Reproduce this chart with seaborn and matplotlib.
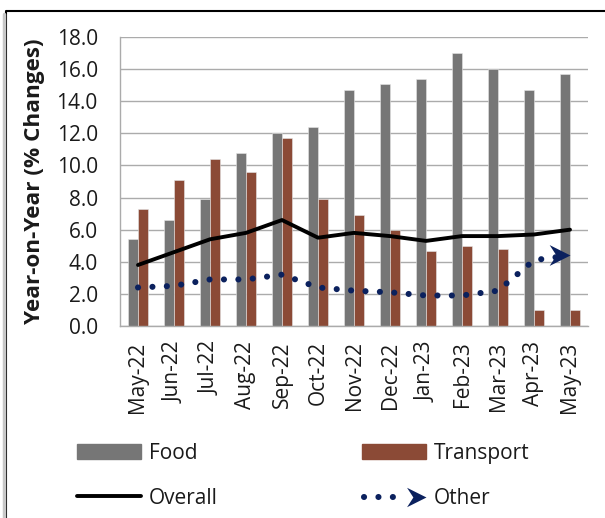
import numpy as np
import pandas as pd
import matplotlib
matplotlib.use("Agg")
import matplotlib.pyplot as plt
from matplotlib.lines import Line2D
from matplotlib.patches import Patch
from matplotlib.path import Path
from matplotlib.legend_handler import HandlerLine2D
import seaborn as sns

months = ["May-22", "Jun-22", "Jul-22", "Aug-22", "Sep-22", "Oct-22", "Nov-22",
          "Dec-22", "Jan-23", "Feb-23", "Mar-23", "Apr-23", "May-23"]
food = [5.4, 6.6, 7.9, 10.8, 12.0, 12.4, 14.7, 15.1, 15.4, 17.0, 16.0, 14.7, 15.7]
transport = [7.3, 9.1, 10.4, 9.6, 11.7, 7.9, 6.9, 6.0, 4.7, 5.0, 4.8, 1.0, 1.0]
overall = [3.8, 4.6, 5.4, 5.8, 6.6, 5.5, 5.8, 5.6, 5.3, 5.6, 5.6, 5.7, 6.0]
other = [2.4, 2.5, 2.9, 2.9, 3.2, 2.4, 2.2, 2.1, 1.9, 1.9, 2.2, 4.1, 4.4]
yticks = [0, 2, 4, 6, 8, 10, 12, 14, 16, 18]

FOOD_C = "#767676"
TRANS_C = "#8b4a36"
OTHER_C = "#0b215e"
GRID_C = "#ababab"

sns.set_style("white")
plt.rcParams["font.family"] = ["Open Sans", "DejaVu Sans"]

fig = plt.figure(figsize=(6.05, 5.18), dpi=100)
ax = fig.add_axes([120 / 605, 1 - 326 / 518, 468 / 605, 289 / 518])

bars = pd.DataFrame({
    "month": months * 2,
    "value": food + transport,
    "series": ["Food"] * len(months) + ["Transport"] * len(months),
})
sns.barplot(data=bars, x="month", y="value", hue="series", order=months,
            hue_order=["Food", "Transport"], palette=[FOOD_C, TRANS_C],
            width=0.575, gap=0, dodge=True, saturation=1, legend=False,
            edgecolor="#e6e6e6", linewidth=0.4, ax=ax, zorder=2)

pos = np.arange(len(months))
sns.lineplot(x=pos, y=overall, color="black", lw=2.8, ax=ax, zorder=4,
             solid_capstyle="round", solid_joinstyle="round")
sns.lineplot(x=pos[:-1].tolist() + [pos[-1] - 0.25],
             y=other[:-1] + [other[-1] - 0.25 * (other[-1] - other[-2])],
             color=OTHER_C, lw=4.4, ax=ax, zorder=5,
             linestyle=(0, (0.01, 2.35)), dash_capstyle="round")

# stealth-style arrowhead, tip sitting on the last point
arrow = Path([(0, 0), (-2.0, 1.0), (-1.35, 0), (-2.0, -1.0), (0, 0)],
             [Path.MOVETO, Path.LINETO, Path.LINETO, Path.LINETO, Path.CLOSEPOLY])
ax.plot([pos[-1]], [other[-1]], marker=arrow, markersize=30, color=OTHER_C,
        markeredgewidth=0, linestyle="none", zorder=6)

ax.set_ylim(0, 18)
ax.set_xlim(-0.5, len(months) - 0.5)
ax.set_yticks(yticks)
ax.set_yticklabels([f"{v:.1f}" for v in yticks])
ax.set_xticks(pos)
ax.set_xticklabels(months, rotation=90)
ax.set_xticks(np.arange(len(months) + 1) - 0.5, minor=True)
ax.tick_params(axis="x", which="major", length=0, pad=11, labelsize=15,
               labelcolor="#1a1a1a")
ax.tick_params(axis="x", which="minor", length=6, width=1, color=GRID_C,
               direction="out")
ax.tick_params(axis="y", length=6, width=1, color=GRID_C, direction="out",
               labelsize=15, labelcolor="#1a1a1a", pad=10)
ax.yaxis.grid(True, color=GRID_C, lw=1, zorder=0)
ax.set_axisbelow(True)
ax.set_xlabel("")
ax.set_ylabel("Year-on-Year (% Changes)", fontsize=16.2, fontweight="bold",
              color="#1a1a1a", labelpad=8)
for side in ["top", "right"]:
    ax.spines[side].set_visible(False)
for side in ["left", "bottom"]:
    ax.spines[side].set_color(GRID_C)
    ax.spines[side].set_linewidth(1)


class ArrowDotsHandler(HandlerLine2D):
    def create_artists(self, legend, orig_handle, xdescent, ydescent,
                       width, height, fontsize, trans):
        y = height / 2 - ydescent
        dots = Line2D([-xdescent + 2, -xdescent + width * 0.70], [y, y],
                      color=OTHER_C, lw=4.4, linestyle=(0, (0.01, 2.35)),
                      dash_capstyle="round", transform=trans)
        head = Line2D([-xdescent + width], [y], marker=arrow, markersize=28,
                      color=OTHER_C, markeredgewidth=0, linestyle="none",
                      transform=trans)
        return [dots, head]


handles = [Patch(color=FOOD_C), Line2D([], [], color="black", lw=2.8),
           Patch(color=TRANS_C), Line2D([], [], color=OTHER_C)]
labels = ["Food", "Overall", "Transport", "Other"]
fig.legend(handles, labels, ncol=2, loc="upper left",
           bbox_to_anchor=(58 / 605, 1 - 424 / 518), frameon=False,
           fontsize=15, handlelength=3.07, handleheight=0.8, handletextpad=0.4,
           columnspacing=6.9, labelspacing=1.16, labelcolor="#1a1a1a",
           handler_map={handles[3]: ArrowDotsHandler()})

# outer chart frame, with its shaded edge on the left
fig.add_artist(Line2D([6 / 605, 6 / 605, 1], [0, 1 - 11 / 518, 1 - 11 / 518],
                      transform=fig.transFigure, color="black", lw=1.5))
fig.add_artist(Line2D([3.5 / 605, 3.5 / 605], [0, 1 - 14 / 518],
                      transform=fig.transFigure, color="#c8c8c8", lw=2.5))

fig.savefig("out.png", dpi=100)
